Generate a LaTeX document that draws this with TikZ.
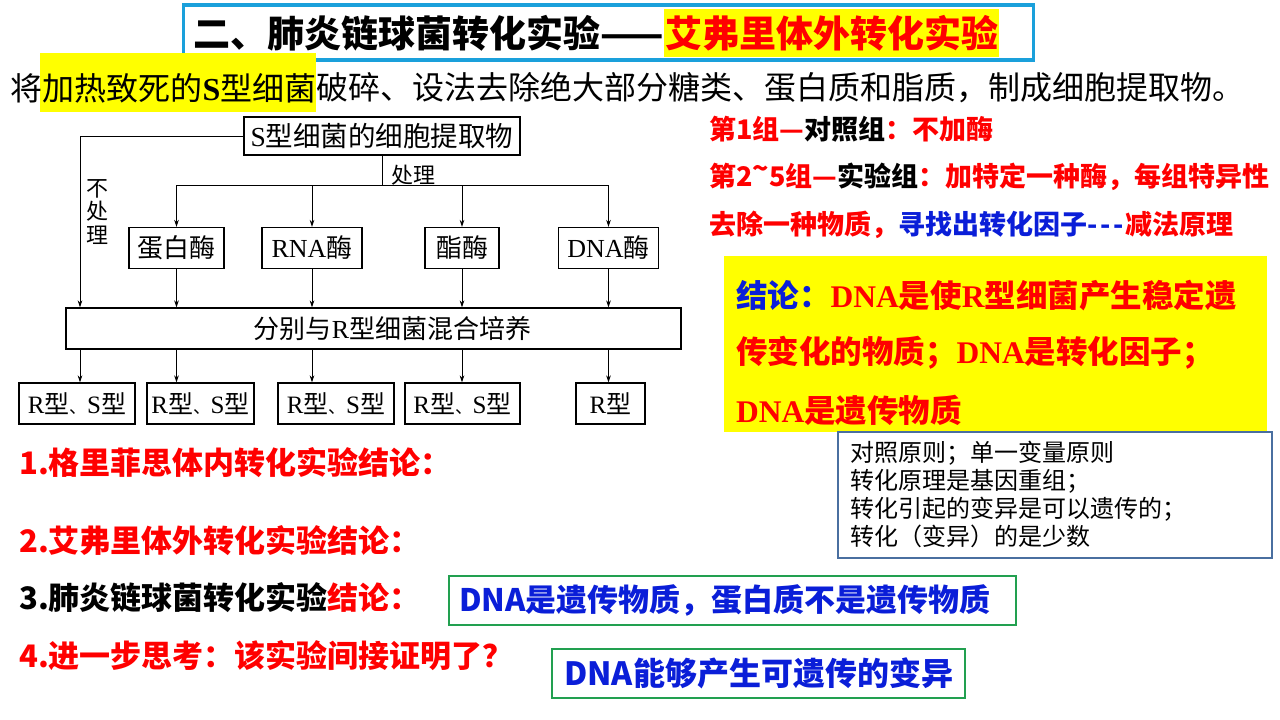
\documentclass[tikz,border=0pt]{standalone}
\usepackage{fontspec}
\setmainfont{Noto Sans CJK SC}
\newfontfamily\lser{Liberation Serif}
\usetikzlibrary{arrows.meta}
\definecolor{tblue}{HTML}{1AA0DB}
\definecolor{myred}{HTML}{FF0000}
\definecolor{myblue}{HTML}{0A1ED8}
\definecolor{mygreen}{HTML}{22A050}
\definecolor{gbox}{HTML}{4A6FA0}
\definecolor{hy}{HTML}{FFFF00}
\newcommand\fs[1]{\fontsize{#1}{#1}\selectfont}
\newcommand\RS{{\lser R}型\scalebox{0.7}{、}{\lser S}型}
\begin{document}
\begin{tikzpicture}[x=1pt,y=-1pt,
  fbox/.style={draw=black, line width=1.1pt, inner sep=0pt, font=\fs{26}},
  rbox/.style={fbox, font=\fs{25}, minimum height=41},
  arr/.style={-{Stealth[length=7pt,width=4.5pt]}, line width=0.9pt},
  ln/.style={line width=0.9pt},
  txt/.style={anchor=west, inner sep=0pt},
  gbx/.style={draw=mygreen, line width=2.2pt, inner sep=0pt},
]
\useasboundingbox (0,0) rectangle (1280,720);
\fill[white] (0,0) rectangle (1280,720);

% title
\node[draw=tblue, line width=3.5pt, minimum width=850, minimum height=55, inner sep=0pt] (tbox) at (608.5,32.5) {};
\node[txt, font=\fs{37}\bfseries] (t1) at (193,33) {二、肺炎链球菌转化实验——};
\node[anchor=west, fill=hy, inner xsep=1pt, inner ysep=0pt, minimum height=48, font=\fs{37}\bfseries, text=myred] (t2) at (t1.east) {艾弗里体外转化实验};

% second line
\fill[hy] (40,53) rectangle (316,112);
\node[txt, font=\fs{32}] (s1) at (10,88) {将};
\node[txt, font=\fs{32}] (s2) at (s1.east) {加热致死的{\lser\bfseries S}型细菌};
\node[txt, font=\fs{32}] (s3) at (s2.east) {破碎、设法去除绝大部分糖类、蛋白质和脂质，制成细胞提取物。};

% flowchart
\node[fbox, minimum width=276, minimum height=38, font=\fs{27.5}] (top) at (382,136) {{\lser S}型细菌的细胞提取物};
\node[fbox, minimum width=95, minimum height=41] (e1) at (176.5,248) {蛋白酶};
\node[fbox, minimum width=100, minimum height=41] (e2) at (312,248) {{\lser RNA}酶};
\node[fbox, minimum width=74, minimum height=41] (e3) at (462,248) {酯酶};
\node[fbox, minimum width=100, minimum height=41] (e4) at (608.5,248) {{\lser DNA}酶};
\node[fbox, minimum width=615, minimum height=41] (mix) at (373.5,328.5) {\hspace{38pt}分别与{\lser R}型细菌混合培养};
\node[rbox, minimum width=116] (r1) at (77,403.5) {\RS};
\node[rbox, minimum width=107] (r2) at (200.5,403.5) {\RS};
\node[rbox, minimum width=116] (r3) at (336,403.5) {\RS};
\node[rbox, minimum width=115] (r4) at (462.5,403.5) {\RS};
\node[rbox, minimum width=69] (r5) at (610.5,403.5) {{\lser R}型};

\coordinate (bp) at (382,185);
\coordinate (lc) at (80,136);
\draw[ln] (top.south) -- (bp);
\draw[ln] (e1.north |- bp) -- (e4.north |- bp);
\foreach \e in {e1,e2,e3,e4} \draw[arr] (\e.north |- bp) -- (\e.north);
\draw[arr] (top.west) -- (lc) -- (lc |- mix.north);
\foreach \e in {e1,e2,e3,e4} \draw[arr] (\e.south) -- (\e.south |- mix.north);
\draw[arr] (lc |- mix.south) -- (lc |- r1.north);
\draw[arr] (e1.south |- mix.south) -- (e1.south |- r2.north);
\draw[arr] (e2.south |- mix.south) -- (e2.south |- r3.north);
\draw[arr] (e3.south |- mix.south) -- (e3.south |- r4.north);
\draw[arr] (e4.south |- mix.south) -- (e4.south |- r5.north);
\node[font=\fs{22}, inner sep=0pt] (cl) at (413,175) {处理};
\node[font=\fontsize{22}{23.5}\selectfont, align=center, inner sep=0pt] (nc) at (97,212) {不\\处\\理};

% right side text
\node[txt, font=\fs{27}\bfseries, text=myred] (g1) at (709,129) {第1组—\textcolor{black}{对照组}：不加酶};
\node[txt, font=\fs{27}\bfseries, text=myred] (g2) at (709,177) {第2\raisebox{0.3em}{\textasciitilde}5组—\textcolor{black}{实验组}：加特定一种酶，每组特异性};
\node[txt, font=\fs{27}\bfseries, text=myred] (g3) at (709,225) {去除一种物质，\textcolor{myblue}{寻找出转化因子-\kern3pt-\kern3pt-\kern1pt}减法原理};

% yellow conclusion box
\node[fill=hy, minimum width=543, minimum height=176, inner sep=0pt] (yb) at (995.5,344) {};
\node[txt, font=\fs{31.5}\bfseries, text=myred] (y1) at (736,296) {\textcolor{myblue}{结论：}{\lser DNA}是使{\lser R}型细菌产生稳定遗};
\node[txt, font=\fs{31.5}\bfseries, text=myred] (y2) at (736,353) {传变化的物质；{\lser DNA}是转化因子；};
\node[txt, font=\fs{31.5}\bfseries, text=myred] (y3) at (736,410) {{\lser DNA}是遗传物质};

% principle box
\node[draw=gbox, line width=1.2pt, fill=white, minimum width=434, minimum height=126, inner sep=0pt] (gb) at (1055,495) {};
\node[anchor=west, inner sep=0pt, align=left, font=\fontsize{24}{28.3}\selectfont] (gt) at (850,494.5) {对照原则；单一变量原则\\转化原理是基因重组；\\转化引起的变异是可以遗传的；\\转化（变异）的是少数};

% bottom questions
\node[txt, font=\fs{31}\bfseries, text=myred] (b1) at (19,463) {1.格里菲思体内转化实验结论：};
\node[txt, font=\fs{31}\bfseries, text=myred] (b2) at (19,541) {2.艾弗里体外转化实验结论：};
\node[txt, font=\fs{31}\bfseries, text=myred] (b3) at (19,598) {\textcolor{black}{3.肺炎链球菌转化实验}结论：};
\node[txt, font=\fs{31}\bfseries, text=myred] (b4) at (19,656) {4.进一步思考：该实验间接证明了？};

\node[gbx, minimum width=567, minimum height=49] (gr1) at (732.5,600.5) {};
\node[txt, font=\fs{31}\bfseries, text=myblue] (a1) at (459,600) {DNA是遗传物质，蛋白质不是遗传物质};
\node[gbx, minimum width=413, minimum height=49] (gr2) at (758.5,673.5) {};
\node[txt, font=\fs{32}\bfseries, text=myblue] (a2) at (564,673) {DNA能够产生可遗传的变异};
\end{tikzpicture}
\end{document}
